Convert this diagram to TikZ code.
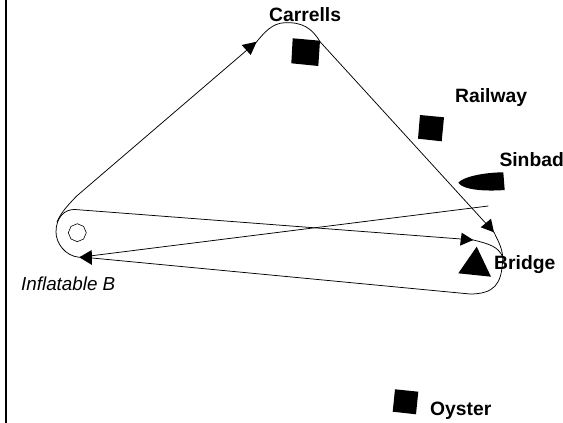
\documentclass[tikz,border=0pt]{standalone}
\usepackage{fontspec}
\setmainfont{Liberation Sans}
\tikzset{
  lbl/.style={font=\bfseries\fontsize{19.3}{21}\selectfont, anchor=base west, inner sep=0pt},
  ital/.style={font=\itshape\fontsize{18.8}{21}\selectfont, anchor=base west, inner sep=0pt},
  track/.style={draw=black, line width=0.75pt}
}
\begin{document}
\begin{tikzpicture}[x=1pt,y=-1pt]
\useasboundingbox (0,0) rectangle (563,423);
\fill[white] (0,0) rectangle (563,423);
\draw[line width=1.7pt] (6,0) -- (6,423);
% marks
\fill (292.7,38.3) -- (320,40.7) -- (318.3,66) -- (291.3,63.3) -- cycle;
\fill (420,115) -- (444,117.3) -- (441.7,141.3) -- (418,138.7) -- cycle;
\fill (395,389.3) -- (418.3,391.7) -- (416,414.3) -- (392.7,411.7) -- cycle;
\fill (458.3,182.7) .. controls (463,177) and (483,172.5) .. (503.3,172.3) -- (504.7,190) .. controls (485,191.5) and (463,190) .. (458.3,182.7) -- cycle;
\fill (476.7,246.7) -- (458.3,273.3) -- (491,276.7) -- cycle;
\draw[line width=0.6pt] (77.3,223.7) -- (83.6,226.4) -- (86.3,232.7) -- (83.6,239) -- (77.3,241.7) -- (71,239) -- (68.3,232.7) -- (71,226.4) -- cycle;
% tracks
\coordinate (start) at (57,222);
\coordinate (a1) at (256.7,41.7);
\coordinate (a2) at (494,232.3);
\coordinate (a3) at (473.3,240);
\coordinate (a4) at (79.3,257.3);
\coordinate (sb) at (488.3,206);
\draw[track] (start) .. controls (61,212) and (70,203) .. (76.7,196) -- (a1) .. controls (264,33) and (272,23) .. (285,22.7) .. controls (302,22) and (312,28) .. (320,41.7) -- (a2) .. controls (498,241) and (504,250) .. (502.5,263) .. controls (501,283) and (495,294) .. (470,294) -- (92,258);
\draw[track] (a4) .. controls (65,256) and (56,243) .. (56,232) .. controls (56,217) and (65,209) .. (75,209.5) -- (461,239) -- (a3) .. controls (490,244) and (498,247) .. (502.3,256);
\draw[track] (sb) -- (a4);
% arrowheads
\fill (a1) -- (250.7,55) -- (241.7,45) -- cycle;
\fill (a2) -- (480.7,227.3) -- (491,218.7) -- cycle;
\fill (a3) -- (461.7,232.7) -- (460,245.7) -- cycle;
\fill (a4) -- (91.7,250) -- (92,265) -- cycle;
% labels
\node[lbl] (carrells) at (269,21.7) {Carrells};
\node[lbl] (railway) at (455,102.7) {Railway};
\node[lbl] (sinbad) at (499.3,166) {Sinbad};
\node[lbl] (bridge) at (494,269) {Bridge};
\node[lbl] (oyster) at (430,415) {Oyster};
\node[ital] (infl) at (21,290) {Inflatable B};
\end{tikzpicture}
\end{document}
